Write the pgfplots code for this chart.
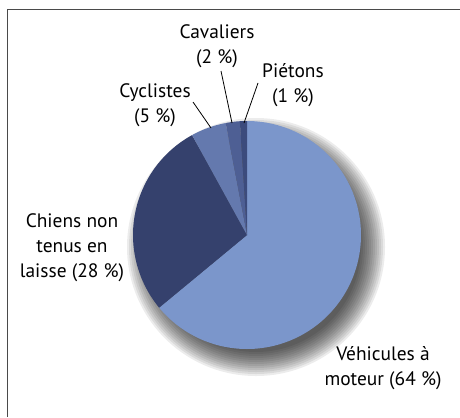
\documentclass[border=0pt]{standalone}
\usepackage{pgfplots}
\pgfplotsset{compat=1.18}
\usepackage{pgfplotstable}
\usepackage{fontspec}
\setmainfont{PT Sans}
\definecolor{cVeh}{HTML}{7B96CB}
\definecolor{cChi}{HTML}{35416D}
\definecolor{cCyc}{HTML}{6479AE}
\definecolor{cCav}{HTML}{4E5F94}
\definecolor{cPie}{HTML}{3C4B7C}
\definecolor{frame}{HTML}{4A4A4A}
% shares in percent
\pgfplotstableread{
name pct
Vehicules 64
Chiens 28
Cyclistes 5
Cavaliers 2
Pietons 1
}\piedata
\pgfplotstablegetelem{0}{pct}\of\piedata\let\pA\pgfplotsretval
\pgfplotstablegetelem{1}{pct}\of\piedata\let\pB\pgfplotsretval
\pgfplotstablegetelem{2}{pct}\of\piedata\let\pC\pgfplotsretval
\pgfplotstablegetelem{3}{pct}\of\piedata\let\pD\pgfplotsretval
\pgfplotstablegetelem{4}{pct}\of\piedata\let\pE\pgfplotsretval
% angles (clockwise from top)
\pgfmathsetmacro{\aA}{90}
\pgfmathsetmacro{\aB}{\aA-3.6*\pA}
\pgfmathsetmacro{\aC}{\aB-3.6*\pB}
\pgfmathsetmacro{\aD}{\aC-3.6*\pC}
\pgfmathsetmacro{\aE}{\aD-3.6*\pD}
\pgfmathsetmacro{\aF}{\aE-3.6*\pE}
\def\cx{247}\def\cy{182}\def\rr{114}
\tikzset{lbl/.style={align=center, font=\fontsize{19.5}{25}\selectfont, inner sep=0pt}}
\begin{document}
\begin{tikzpicture}[x=1bp,y=1bp]
% soft drop shadow
\foreach \i in {0,...,12}{
  \fill[black,opacity=0.075] (\cx+9,\cy-12) circle[radius={129bp-2bp*\i}];
}
\begin{axis}[
  at={(0,0)}, anchor=origin,
  x=1bp, y=1bp, xmin=0, xmax=460, ymin=0, ymax=417,
  hide axis, clip=false,
]
\addplot[fill=cVeh, draw=none, domain=\aB:\aA, samples=120, variable=\t]
  ({\cx+\rr*cos(t)},{\cy+\rr*sin(t)}) -- (axis cs:\cx,\cy) -- cycle;
\addplot[fill=cChi, draw=none, domain=\aC:\aB, samples=60, variable=\t]
  ({\cx+\rr*cos(t)},{\cy+\rr*sin(t)}) -- (axis cs:\cx,\cy) -- cycle;
\addplot[fill=cCyc, draw=none, domain=\aD:\aC, samples=20, variable=\t]
  ({\cx+\rr*cos(t)},{\cy+\rr*sin(t)}) -- (axis cs:\cx,\cy) -- cycle;
\addplot[fill=cCav, draw=none, domain=\aE:\aD, samples=10, variable=\t]
  ({\cx+\rr*cos(t)},{\cy+\rr*sin(t)}) -- (axis cs:\cx,\cy) -- cycle;
\addplot[fill=cPie, draw=none, domain=\aF:\aE, samples=6, variable=\t]
  ({\cx+\rr*cos(t)},{\cy+\rr*sin(t)}) -- (axis cs:\cx,\cy) -- cycle;
% frame
\draw[frame, line width=1.6bp] (axis cs:7.5,0) -- (axis cs:7.5,407.5) -- (axis cs:460,407.5);
% leader lines
\draw[black, line width=0.8bp] (axis cs:193,315) -- (axis cs:211,289);
\draw[black, line width=0.8bp] (axis cs:221,346) -- (axis cs:232,294);
\draw[black, line width=0.8bp] (axis cs:258,334) -- (axis cs:244,294);
% labels
\node[lbl] at (axis cs:217,371) {Cavaliers\\(2~\%)};
\node[lbl] at (axis cs:293,332) {Piétons\\(1~\%)};
\node[lbl] at (axis cs:155,312) {Cyclistes\\(5~\%)};
\node[lbl] at (axis cs:72,169) {Chiens non\\tenus en\\laisse (28~\%)};
\node[lbl] at (axis cs:383,49) {Véhicules à\\moteur (64~\%)};
\end{axis}
\pgfresetboundingbox
\path[use as bounding box] (0,0) rectangle (460,417);
\end{tikzpicture}
\end{document}
